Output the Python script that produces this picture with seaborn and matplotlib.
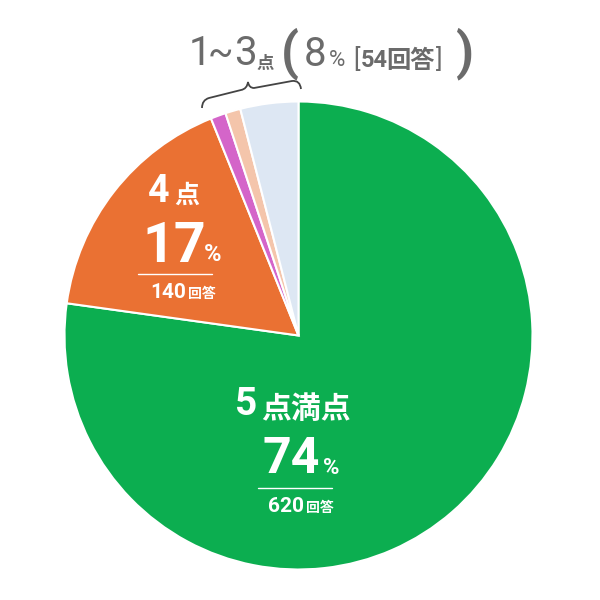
import numpy as np
import seaborn as sns
import matplotlib
matplotlib.use("Agg")
import matplotlib.pyplot as plt
from matplotlib.path import Path
from matplotlib.patches import PathPatch

# slice shares as drawn in the chart (clockwise from 12 o'clock)
labels = ["5点満点", "4点", "3点", "2点", "1点"]
slice_share = [77.2, 16.7, 1.05, 1.05, 4.0]
colors = ["#0cae50", "#ea7133", "#d465c9", "#f4c5ab", "#dde7f3"]

# printed figures
pct_text = ["74", "17", "8"]
answer_counts = [620, 140, 54]

sns.set_theme(style="white")
NUM = ["Roboto", "DejaVu Sans", "Noto Sans CJK JP"]
CJK = ["Noto Sans CJK JP", "DejaVu Sans"]
plt.rcParams["font.family"] = NUM

fig = plt.figure(figsize=(6, 6), dpi=100)
ax = fig.add_axes([0, 0, 1, 1])

# y axis inverted so everything is in pixel coords -> pie runs clockwise from top
ax.pie(slice_share, colors=colors, startangle=-90, counterclock=True,
       center=(298.5, 335.5), radius=234,
       wedgeprops=dict(edgecolor="white", linewidth=1.5))
ax.set_xlim(0, 600)
ax.set_ylim(600, 0)
ax.set_aspect("equal")
ax.set_axis_off()

# ---- heading for the small slices
gray = "#6b6b6b"
ax.text(189, 65, "1", fontsize=29, color=gray, family=NUM)
ax.text(208, 65, "~", fontsize=27, color=gray, family=NUM)
ax.text(234, 65, "3", fontsize=29, color=gray, family=NUM)
ax.text(257, 69, "点", fontsize=12.5, color=gray, family=CJK, fontweight="bold")
ax.text(290, 54, "(", fontsize=37, color=gray, family=NUM, fontweight="bold",
        ha="center", va="center")
ax.text(304, 66, pct_text[2], fontsize=29, color=gray, family=NUM)
ax.text(329, 66, "%", fontsize=16, color=gray, family=NUM)
ax.text(353, 67, "[", fontsize=18, color=gray, family=NUM)
ax.text(361, 67, str(answer_counts[2]), fontsize=17, color=gray, family=NUM,
        fontweight="bold")
ax.text(386, 68, "回答", fontsize=17.5, color=gray, family=CJK, fontweight="bold")
ax.text(436, 67, "]", fontsize=18, color=gray, family=NUM)
ax.text(465, 54, ")", fontsize=37, color=gray, family=NUM, fontweight="bold",
        ha="center", va="center")

# curly brace over the small slices
verts = [(202, 108), (202, 100), (209, 98), (241, 90), (247, 89), (248, 82),
         (249, 88), (254, 88), (292, 81), (300, 80), (301, 89)]
codes = [Path.MOVETO, Path.CURVE3, Path.CURVE3, Path.LINETO, Path.CURVE3,
         Path.CURVE3, Path.CURVE3, Path.CURVE3, Path.LINETO, Path.CURVE3,
         Path.CURVE3]
ax.add_patch(PathPatch(Path(verts, codes), facecolor="none",
                       edgecolor="#444444", linewidth=1.3))

# ---- 4点 label
w = "white"
ax.text(148, 202, labels[1][0], fontsize=27, color=w, family=NUM, fontweight="bold")
ax.text(174, 203, labels[1][1], fontsize=18, color=w, family=CJK, fontweight="bold")
ax.text(142, 262, pct_text[1], fontsize=40, color=w, family=NUM, fontweight="bold")
ax.text(204, 261, "%", fontsize=17, color=w, family=NUM, fontweight="bold")
ax.plot([138, 212], [274, 274], color=w, lw=1)
ax.text(150, 298, str(answer_counts[1]), fontsize=15, color=w, family=NUM,
        fontweight="bold")
ax.text(188, 298, "回答", fontsize=10, color=w, family=CJK, fontweight="bold")

# ---- 5点満点 label
ax.text(235, 415, labels[0][0], fontsize=28, color=w, family=NUM, fontweight="bold")
ax.text(261, 418, labels[0][1:], fontsize=21.5, color=w, family=CJK, fontweight="bold")
ax.text(262, 473, pct_text[0], fontsize=36, color=w, family=NUM, fontweight="bold")
ax.text(323, 474, "%", fontsize=16, color=w, family=NUM, fontweight="bold")
ax.plot([258, 332], [488, 488], color=w, lw=1)
ax.text(268, 512, str(answer_counts[0]), fontsize=15, color=w, family=NUM,
        fontweight="bold")
ax.text(306, 512, "回答", fontsize=10, color=w, family=CJK, fontweight="bold")

fig.savefig("out.png", dpi=100, facecolor="white")
